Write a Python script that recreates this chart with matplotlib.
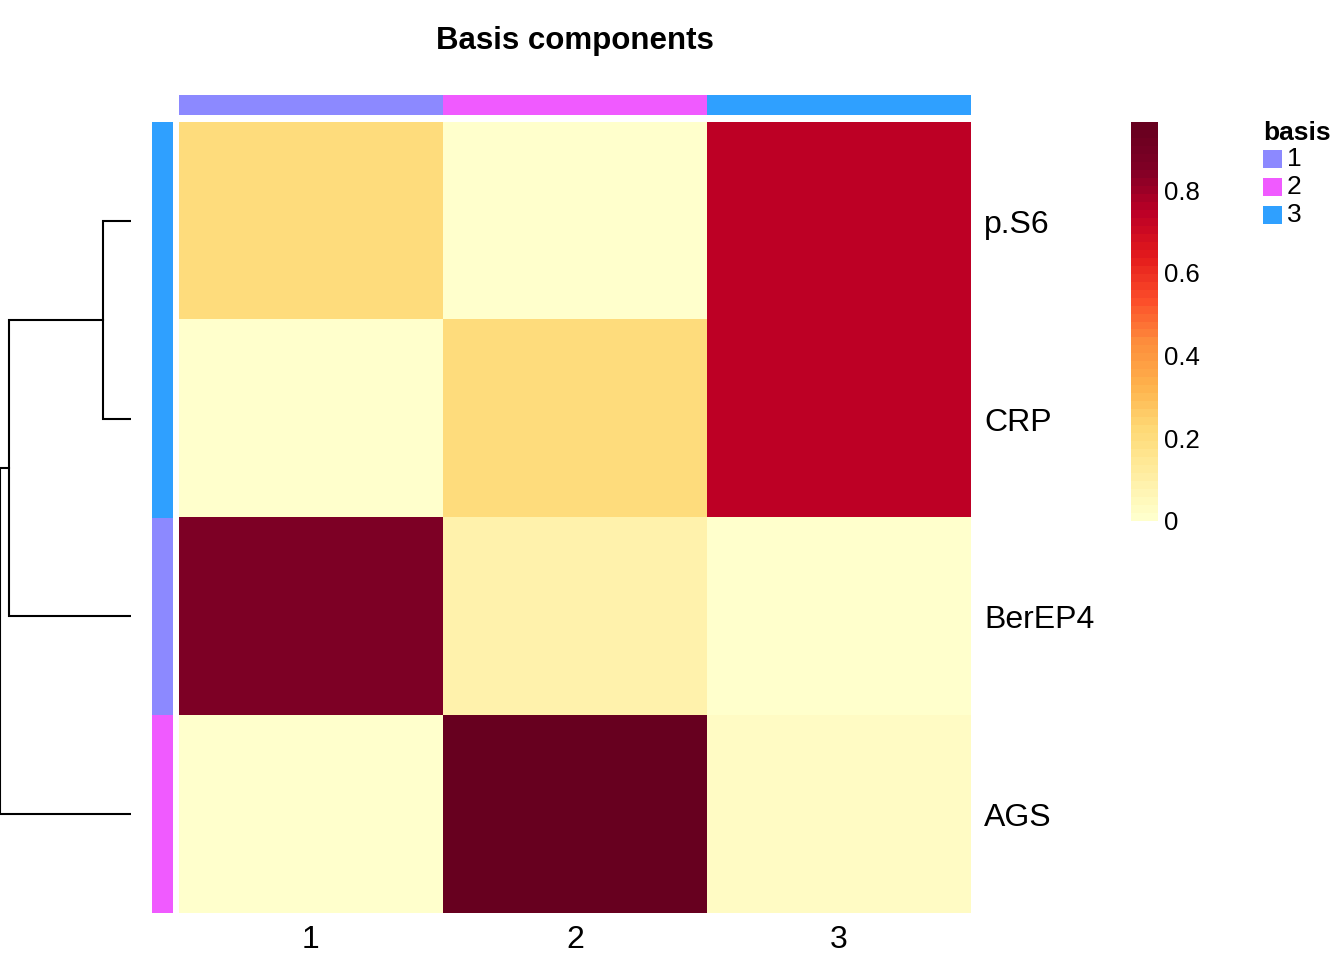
import matplotlib
matplotlib.use('Agg')
import matplotlib.pyplot as plt
import numpy as np
from matplotlib.colors import LinearSegmentedColormap, ListedColormap
from matplotlib.patches import Rectangle

plt.rcParams['font.family'] = ['Liberation Sans', 'DejaVu Sans']

# data
row_labels = ['p.S6', 'CRP', 'BerEP4', 'AGS']
col_labels = ['1', '2', '3']
values = np.array([
    [0.21, 0.01, 0.74],
    [0.01, 0.20, 0.74],
    [0.86, 0.09, 0.015],
    [0.01, 0.965, 0.035],
])
row_basis = [3, 3, 1, 2]
col_basis = [1, 2, 3]
basis_colors = {1: '#8C89FF', 2: '#F05AFF', 3: '#2FA0FF'}
# dendrogram merges: (left node, right node, height); leaves 0..3 in display order
merges = [(0, 1, 0.21), (4, 2, 0.93), (5, 3, 1.0)]
cbar_ticks = [0, 0.2, 0.4, 0.6, 0.8]
vmax = 0.965

W, H = 1344, 960
fig = plt.figure(figsize=(W / 100, H / 100), dpi=100)

def px_axes(x0, y0, x1, y1):
    return fig.add_axes([x0 / W, 1 - y1 / H, (x1 - x0) / W, (y1 - y0) / H])

base = ['#FFFFCC', '#FFEDA0', '#FED976', '#FEB24C', '#FD8D3C',
        '#FC4E2A', '#E31A1C', '#BD0026', '#800026', '#67001F']
smooth = LinearSegmentedColormap.from_list('ylorrd', base)
cmap = ListedColormap(smooth(np.linspace(0, 1, 50)))

nr, nc = values.shape

# heatmap
ax = px_axes(179, 122, 971, 913)
im = ax.imshow(values, cmap=cmap, vmin=0, vmax=vmax, aspect='auto',
               interpolation='nearest', extent=(0, nc, nr, 0))
ax.set_xlim(0, nc)
ax.set_ylim(nr, 0)
ax.axis('off')
for i, lab in enumerate(row_labels):
    ax.text(nc + 0.05, i + 0.52, lab, fontsize=23, va='center', ha='left')
for j, lab in enumerate(col_labels):
    ax.text(j + 0.5, nr + 0.135, lab, fontsize=23, va='center', ha='center')

# top annotation
axt = px_axes(179, 95, 971, 115)
for j, b in enumerate(col_basis):
    axt.add_patch(Rectangle((j, 0), 1, 1, color=basis_colors[b], lw=0))
axt.set_xlim(0, nc)
axt.set_ylim(0, 1)
axt.axis('off')

# left annotation
axl = px_axes(152, 122, 173, 913)
for i, b in enumerate(row_basis):
    axl.add_patch(Rectangle((0, i), 1, 1, color=basis_colors[b], lw=0))
axl.set_xlim(0, 1)
axl.set_ylim(nr, 0)
axl.axis('off')

# dendrogram
axd = px_axes(0, 122, 131, 913)
pos = {i: (i + 0.5, 0.0) for i in range(nr)}
for k, (a, b, h) in enumerate(merges):
    ya, ha = pos[a]
    yb, hb = pos[b]
    axd.plot([ha, h, h, hb], [ya, ya, yb, yb], color='black', lw=1.5,
             solid_joinstyle='miter')
    pos[nr + k] = ((ya + yb) / 2, h)
axd.set_xlim(1.0, 0)
axd.set_ylim(nr, 0)
axd.axis('off')

# colorbar
axc = px_axes(1131, 122, 1158, 521)
cb = fig.colorbar(im, cax=axc)
cb.outline.set_visible(False)
cb.set_ticks(cbar_ticks)
cb.set_ticklabels(['0', '0.2', '0.4', '0.6', '0.8'])
axc.tick_params(length=0, labelsize=18.5, pad=4)

# legend
fig.text(1263 / W, 1 - 133 / H, 'basis', fontsize=19, fontweight='bold',
         va='center', ha='left')
for k, b in enumerate(sorted(basis_colors)):
    yc = 159 + 28 * k
    fig.patches.append(Rectangle((1263 / W, 1 - (yc + 9) / H), 19 / W, 18 / H,
                                 transform=fig.transFigure, color=basis_colors[b], lw=0))
    fig.text(1287 / W, 1 - yc / H, str(b), fontsize=19, va='center', ha='left')

fig.text(575 / W, 1 - 41 / H, 'Basis components', fontsize=22.5, fontweight='bold',
         ha='center', va='center')

fig.savefig('out.png', dpi=100)
